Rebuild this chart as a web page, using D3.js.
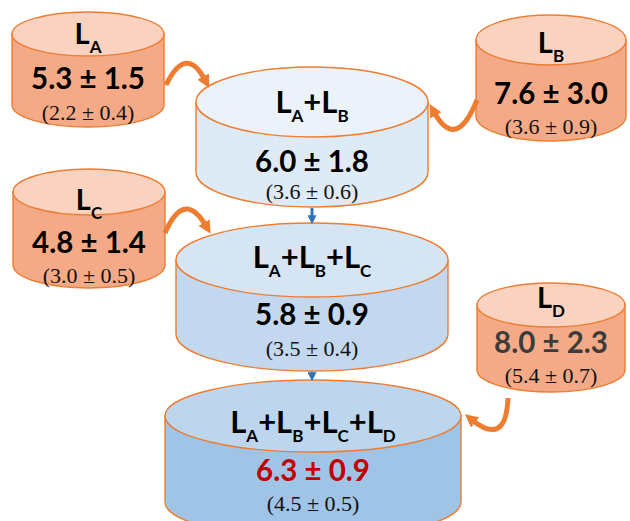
<!DOCTYPE html>
<html>
<head>
<meta charset="utf-8">
<script src="https://cdn.jsdelivr.net/npm/d3@7"></script>
<style>
  body { margin: 0; background: #fff; }
</style>
</head>
<body>
<svg></svg>
<script>
var width = 630;
var height = 521;

// data
var groups = [["A"], ["B"], ["A", "B"], ["C"], ["A", "B", "C"], ["D"], ["A", "B", "C", "D"]];
var means = [5.3, 7.6, 6.0, 4.8, 5.8, 8.0, 6.3];
var sds = [1.5, 3.0, 1.8, 1.4, 0.9, 2.3, 0.9];
var innerMeans = [2.2, 3.6, 3.6, 3.0, 3.5, 5.4, 4.5];
var innerSds = [0.4, 0.9, 0.6, 0.5, 0.4, 0.7, 0.5];
// which single source flows into which pooled set
var flows = [[0, 2], [1, 2], [3, 4], [5, 6]];
var steps = [[2, 4], [4, 6]];

// layout (cx, top ellipse cy, rx, ry, bottom cy, label/number/paren baselines)
var layout = [
  { cx: 88, top: 34, rx: 76, ry: 22, bot: 105, ly: 44, ny: 89, py: 120, big: false },
  { cx: 551, top: 40, rx: 75, ry: 25, bot: 116, ly: 53, ny: 104, py: 134, big: false },
  { cx: 312, top: 102, rx: 116, ry: 35, bot: 172, ly: 113, ny: 172, py: 199, big: true },
  { cx: 89, top: 192, rx: 76, ry: 23, bot: 265, ly: 210, ny: 253, py: 283, big: false },
  { cx: 312, top: 260, rx: 136, ry: 37, bot: 334, ly: 268, ny: 325, py: 356, big: true },
  { cx: 551, top: 305, rx: 74, ry: 22, bot: 370, ly: 308, ny: 353, py: 383, big: false },
  { cx: 313, top: 416, rx: 148, ry: 36, bot: 502, ly: 433, ny: 481, py: 511, big: true }
];
var flowPaths = [
  [[166, 85], [186, 44], [205, 80]],
  [[477, 100], [456, 152], [434, 112]],
  [[165, 233], [184, 189], [206, 226]],
  [[508, 398], [506, 447], [472, 420]]
];

var sideColor = ["#f5aa87", "#f5aa87", "#deeaf6", "#f5aa87", "#c3d8ee", "#f5aa87", "#a0c4e6"];
var topColor = ["#fad2c0", "#fad2c0", "#ebf2fa", "#fad2c0", "#d6e5f4", "#fad2c0", "#bdd6ee"];
var numColor = ["#000", "#000", "#000", "#000", "#000", "#3c3c3c", "#c00000"];

var f1 = d3.format(".1f");

var svg = d3.select('svg')
    .attr('width', width)
    .attr('height', height);

var defs = svg.append('defs');
defs.append('marker')
    .attr('id', 'headO')
    .attr('viewBox', '0 0 10 10')
    .attr('refX', 3).attr('refY', 5)
    .attr('markerWidth', 2.6).attr('markerHeight', 2.6)
    .attr('orient', 'auto')
    .append('path').attr('d', 'M0,0 L10,5 L0,10 Z').attr('fill', '#ed7d31');
defs.append('marker')
    .attr('id', 'headB')
    .attr('viewBox', '0 0 10 10')
    .attr('refX', 2).attr('refY', 5)
    .attr('markerWidth', 3).attr('markerHeight', 3)
    .attr('orient', 'auto')
    .append('path').attr('d', 'M0,0 L10,5 L0,10 Z').attr('fill', '#2e75b6');

var cyl = svg.selectAll('g.cyl')
    .data(groups)
    .enter()
    .append('g')
    .attr('class', 'cyl');

// side of the drum
cyl.append('path')
    .attr('d', function (d, i) {
        var c = layout[i];
        return 'M' + (c.cx - c.rx) + ',' + c.top +
            ' L' + (c.cx - c.rx) + ',' + c.bot +
            ' A' + c.rx + ',' + c.ry + ' 0 0 0 ' + (c.cx + c.rx) + ',' + c.bot +
            ' L' + (c.cx + c.rx) + ',' + c.top + ' Z';
    })
    .attr('fill', function (d, i) { return sideColor[i]; })
    .attr('stroke', '#ed7d31')
    .attr('stroke-width', 1.4);

// lid
cyl.append('ellipse')
    .attr('cx', function (d, i) { return layout[i].cx; })
    .attr('cy', function (d, i) { return layout[i].top; })
    .attr('rx', function (d, i) { return layout[i].rx; })
    .attr('ry', function (d, i) { return layout[i].ry; })
    .attr('fill', function (d, i) { return topColor[i]; })
    .attr('stroke', '#ed7d31')
    .attr('stroke-width', 1.4);

// label L_A+L_B...
var label = cyl.append('text')
    .attr('x', function (d, i) { return layout[i].cx; })
    .attr('y', function (d, i) { return layout[i].ly; })
    .attr('text-anchor', 'middle')
    .attr('font-family', 'Lato, sans-serif')
    .attr('font-weight', 'bold')
    .attr('font-size', function (d, i) { return layout[i].big ? 31 : 29; });

label.each(function (d, i) {
    var t = d3.select(this);
    var fs = layout[i].big ? 31 : 29;
    var drop = Math.round(fs * 0.3);
    d.forEach(function (s, j) {
        if (j > 0) t.append('tspan').attr('dy', -drop).text('+');
        t.append('tspan').text('L');
        t.append('tspan').attr('dy', drop).attr('font-size', Math.round(fs * (layout[i].big ? 0.56 : 0.6))).text(s);
    });
});

cyl.append('text')
    .attr('x', function (d, i) { return layout[i].cx; })
    .attr('y', function (d, i) { return layout[i].ny; })
    .attr('text-anchor', 'middle')
    .attr('font-family', 'Lato, sans-serif')
    .attr('font-weight', 'bold')
    .attr('font-size', 29.5)
    .attr('fill', function (d, i) { return numColor[i]; })
    .text(function (d, i) { return f1(means[i]) + ' \u00b1 ' + f1(sds[i]); });

cyl.append('text')
    .attr('x', function (d, i) { return layout[i].cx; })
    .attr('y', function (d, i) { return layout[i].py; })
    .attr('text-anchor', 'middle')
    .attr('font-family', '"Liberation Serif", serif')
    .attr('font-size', 22)
    .attr('fill', '#111')
    .text(function (d, i) { return '(' + f1(innerMeans[i]) + ' \u00b1 ' + f1(innerSds[i]) + ')'; });

// orange curved arrows from single sources
svg.selectAll('path.flow')
    .data(flows)
    .enter()
    .append('path')
    .attr('class', 'flow')
    .attr('d', function (d, i) {
        var q = flowPaths[i];
        var p = d3.path();
        p.moveTo(q[0][0], q[0][1]);
        p.quadraticCurveTo(q[1][0], q[1][1], q[2][0], q[2][1]);
        return p.toString();
    })
    .attr('fill', 'none')
    .attr('stroke', '#ed7d31')
    .attr('stroke-width', 5)
    .attr('marker-end', 'url(#headO)');

// blue arrows between pooled sets
svg.selectAll('line.step')
    .data(steps)
    .enter()
    .append('line')
    .attr('class', 'step')
    .attr('x1', function (d) { return layout[d[0]].cx; })
    .attr('x2', function (d) { return layout[d[0]].cx; })
    .attr('y1', function (d) { return layout[d[0]].bot + layout[d[0]].ry + 1; })
    .attr('y2', function (d) { return layout[d[1]].top - layout[d[1]].ry - 6; })
    .attr('stroke', '#2e75b6')
    .attr('stroke-width', 3)
    .attr('marker-end', 'url(#headB)');
</script>
</body>
</html>
